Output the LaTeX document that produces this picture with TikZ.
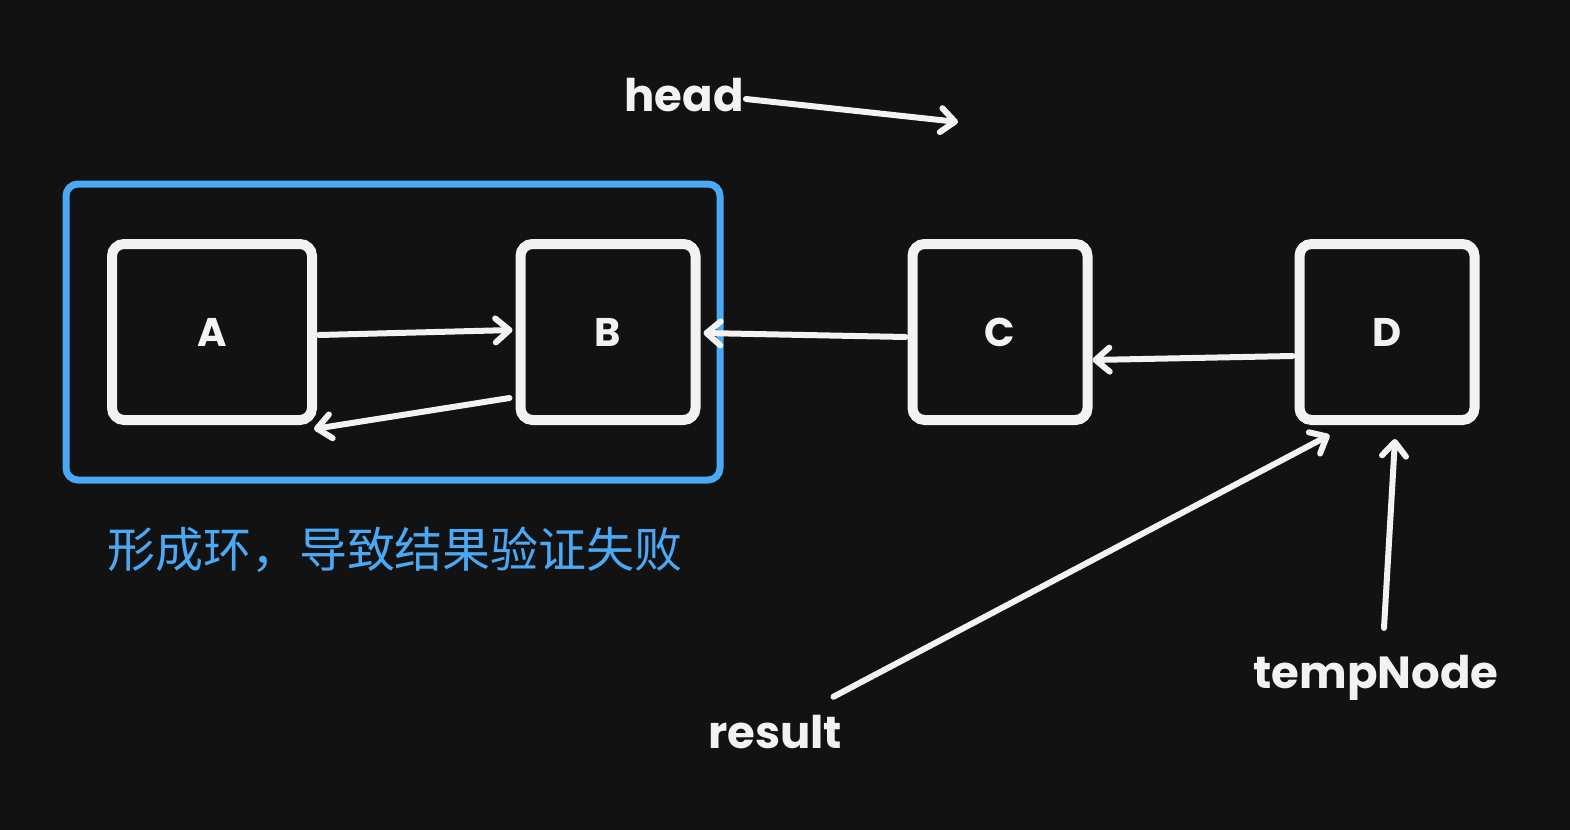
\documentclass[tikz,border=0pt]{standalone}
\usepackage{fontspec}
\setmainfont{Poppins}
\newfontfamily\cjkfont{Noto Sans CJK SC}
\usetikzlibrary{arrows.meta}
\definecolor{bgdark}{HTML}{121212}
\definecolor{inkwhite}{HTML}{F2F2F2}
\definecolor{loopblue}{HTML}{4AA8F5}
\newcommand{\labelsize}{\fontsize{22.5}{26}\selectfont}

\begin{document}
\begin{tikzpicture}[x=0.5pt,y=-0.5pt,
	listbox/.style={draw=inkwhite, line width=5pt, rounded corners=6pt, minimum width=87.5pt, minimum height=88pt, text=inkwhite, font=\bfseries\fontsize{20}{24}\selectfont},
	link/.style={draw=inkwhite, line width=3pt, line cap=round, -{Straight Barb[length=7pt, width=12pt, round]}},
	ptrlabel/.style={text=inkwhite, font=\bfseries\labelsize, inner sep=2pt}]
	\fill[bgdark] (0,0) rectangle (1570,830);
	\useasboundingbox (0,0) rectangle (1570,830);

	\node[listbox, minimum width=100pt] (A) at (212,332) {A};
	\node[listbox] (B) at (608,332) {B};
	\node[listbox] (C) at (1000,332) {C};
	\node[listbox] (D) at (1387,332) {D};

	\node[ptrlabel] (head) at (684,95) {head};
	\coordinate (headtip) at (958,122);
	\node[ptrlabel] (result) at (775,732) {result};
	\node[ptrlabel] (tempNode) at (1376,678) {tempNode};

	% the loop between A and B
	\draw[loopblue, line width=3.5pt, rounded corners=6pt] (66,184) rectangle (720,480);
	\node[text=loopblue, font=\cjkfont\fontsize{24}{28}\selectfont] (loopnote) at (395,550) {形成环，导致结果验证失败};

	\draw[link] ([shift={(2,3)}]A.east) -- ([shift={(-3,-2)}]B.west);
	\draw[link] ([shift={(-6,66)}]B.west) -- ([shift={(-3,4)}]A.south east);
	\draw[link] ([shift={(-2,5)}]C.west) -- ([shift={(3,1)}]B.east);
	\draw[link] ([shift={(-2,24)}]D.west) -- ([shift={(0,28)}]C.east);
	\draw[link] ([shift={(-2,4)}]head.east) -- (headtip);
	\draw[link] ([shift={(-13,-14)}]result.north east) -- ([shift={(35,10)}]D.south west);
	\draw[link] ([shift={(8,-23)}]tempNode.north) -- ([shift={(8,14)}]D.south);
\end{tikzpicture}
\end{document}
